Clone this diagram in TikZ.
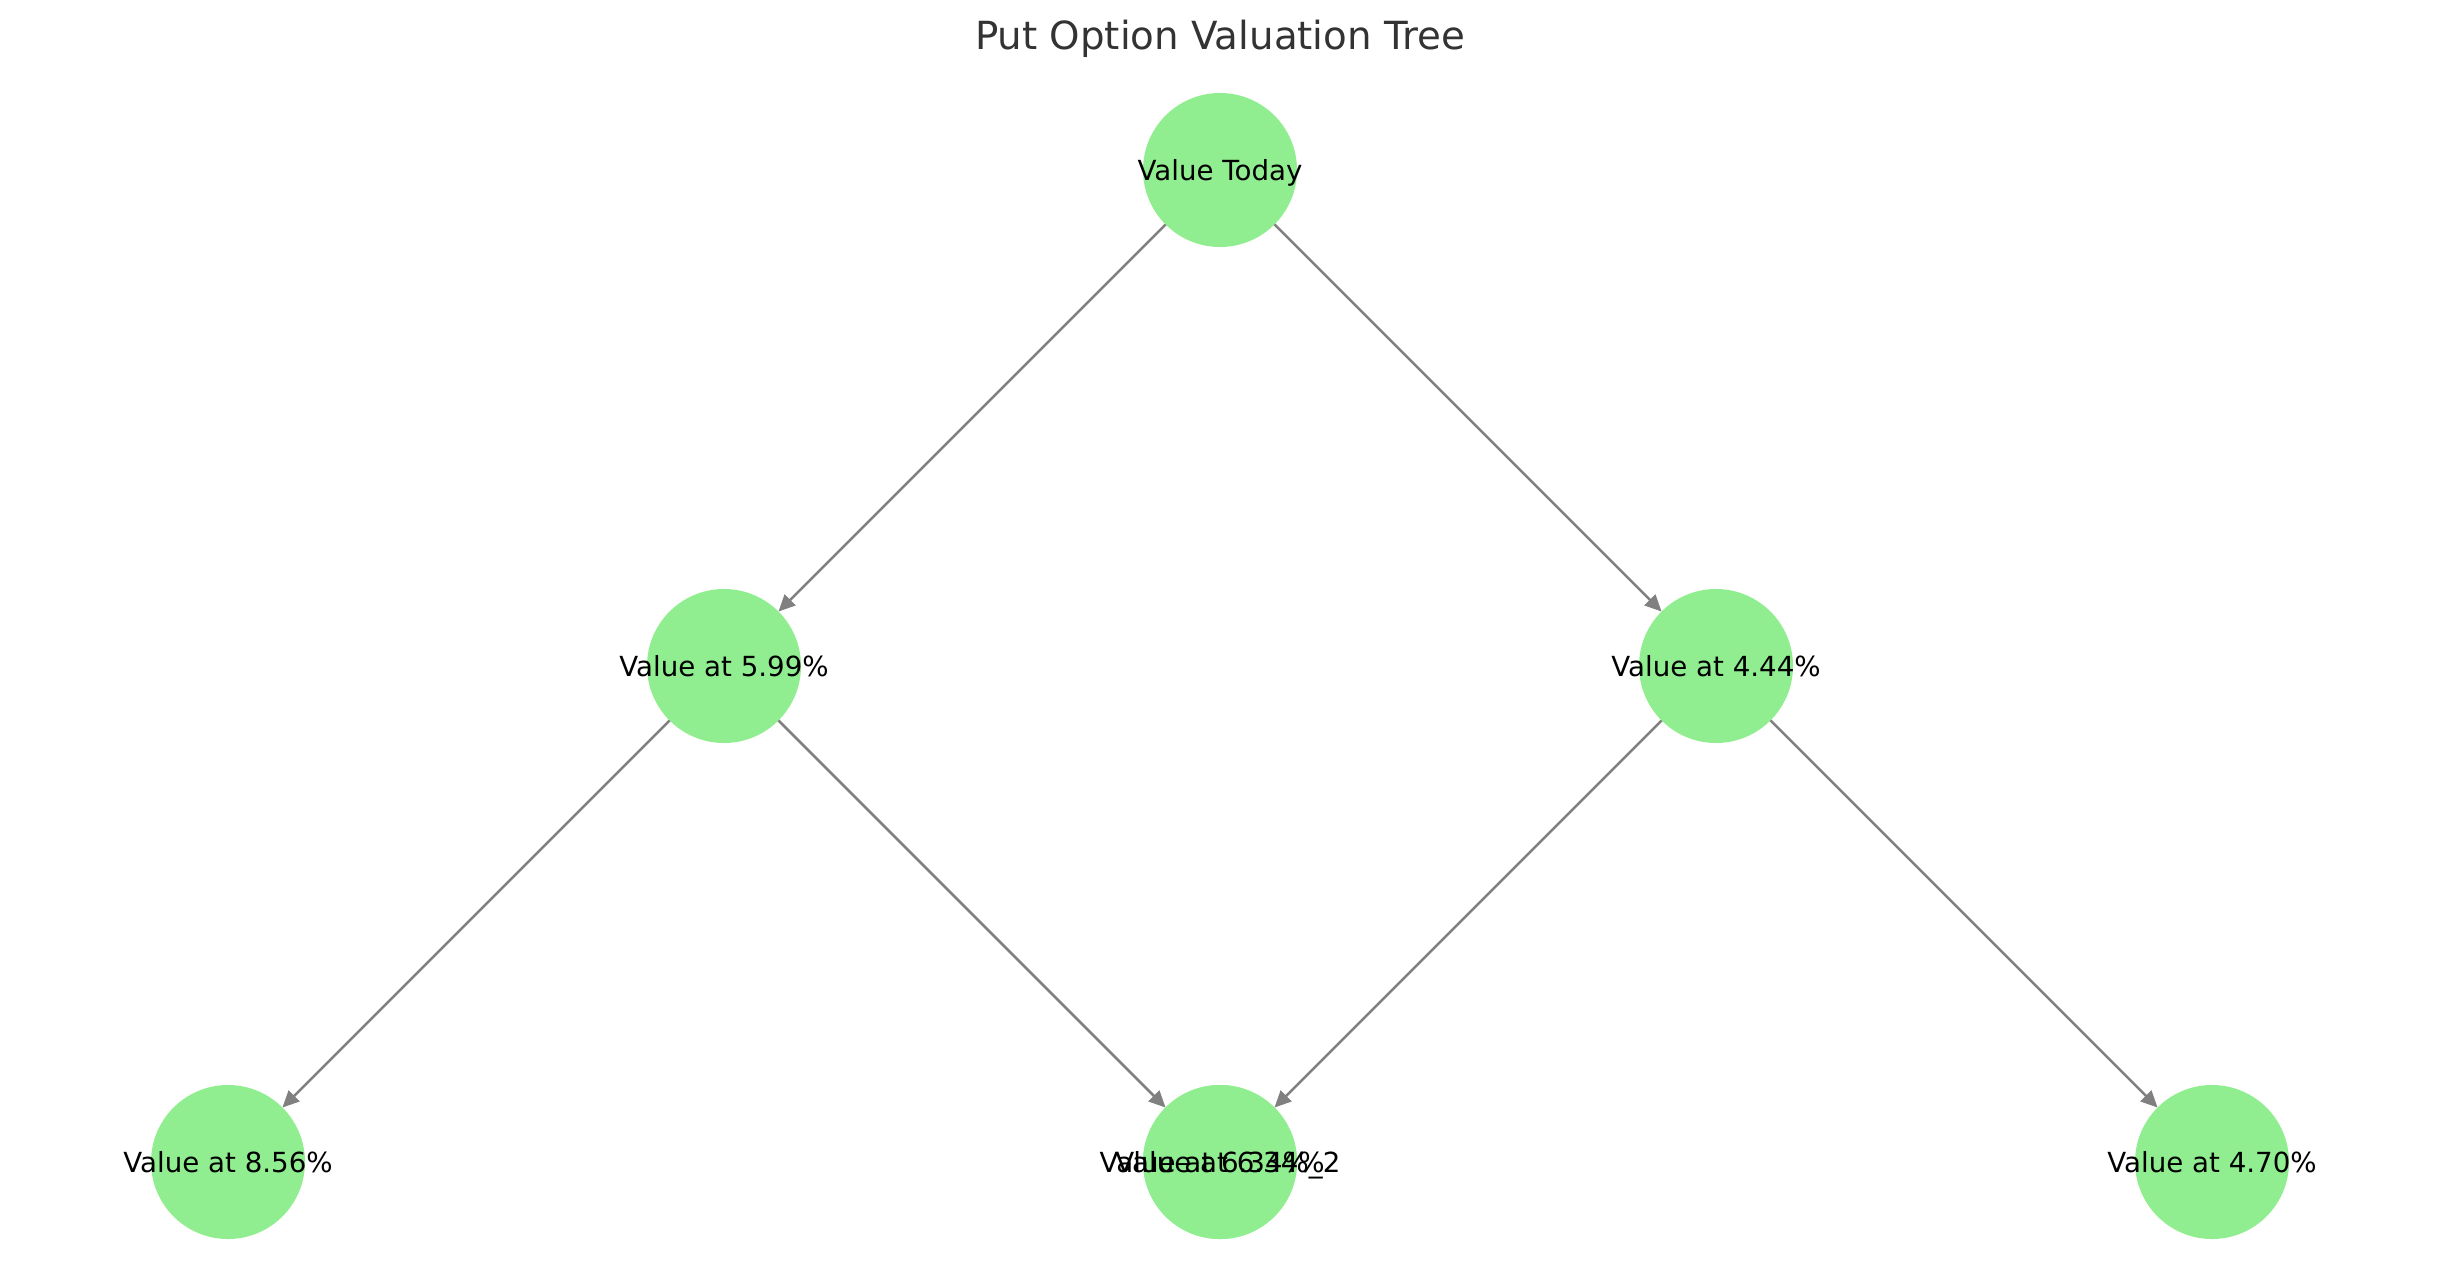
\documentclass[tikz,border=0pt]{standalone}
\usepackage{fontspec}
\setmainfont{DejaVu Sans}
\usepackage{xcolor}
\usepackage{tikz}
\usetikzlibrary{arrows.meta}
\definecolor{leaf}{HTML}{90EE90}
\definecolor{edgegray}{HTML}{808080}
\definecolor{titletext}{HTML}{333333}
\tikzset{
  dot/.style={circle, fill=leaf, minimum size=19.56mm, inner sep=0pt, outer sep=0pt},
  edge/.style={draw=edgegray, line width=0.9pt, -{Triangle[length=6pt,width=5.5pt]}},
  lab/.style={text=black, font=\fontsize{10pt}{12pt}\selectfont, inner sep=0pt,
    text height=7.3pt, text depth=0pt},
  ttl/.style={text=titletext, font=\fontsize{14pt}{17pt}\selectfont, inner sep=0pt, anchor=base},
}
\begin{document}
\begin{tikzpicture}[x=0.127mm,y=-0.127mm]
  \useasboundingbox (0,0) rectangle (2440,1286);
  \coordinate (pT)  at (1220, 170);
  \coordinate (pU)  at ( 724, 666);
  \coordinate (pD)  at (1716, 666);
  \coordinate (pUU) at ( 228,1162);
  \coordinate (pUD) at (1220,1162);
  \coordinate (pDD) at (2212,1162);

  \node[ttl] (title) at (1220,50) {Put Option Valuation Tree};

  % circles
  \node[dot] (T)   at (pT)  {};
  \node[dot] (U)   at (pU)  {};
  \node[dot] (D)   at (pD)  {};
  \node[dot] (UU)  at (pUU) {};
  \node[dot] (UD)  at (pUD) {};
  \node[dot] (UDb) at (pUD) {};
  \node[dot] (DD)  at (pDD) {};

  \draw[edge] (T) -- (U);
  \draw[edge] (T) -- (D);
  \draw[edge] (U) -- (UU);
  \draw[edge] (U) -- (UD);
  \draw[edge] (D) -- (UDb);
  \draw[edge] (D) -- (DD);

  % labels
  \node[lab] (T-l)   at (T)   {Value Today};
  \node[lab] (U-l)   at (U)   {Value at 5.99\%};
  \node[lab] (D-l)   at (D)   {Value at 4.44\%};
  \node[lab] (UU-l)  at (UU)  {Value at 8.56\%};
  \node[lab] (UD-l)  at (UD)  {Value at 6.34\%};
  \node[lab] (UDb-l) at (UDb) {Value at 6.34\%\_2};
  \node[lab] (DD-l)  at (DD)  {Value at 4.70\%};
\end{tikzpicture}
\end{document}
